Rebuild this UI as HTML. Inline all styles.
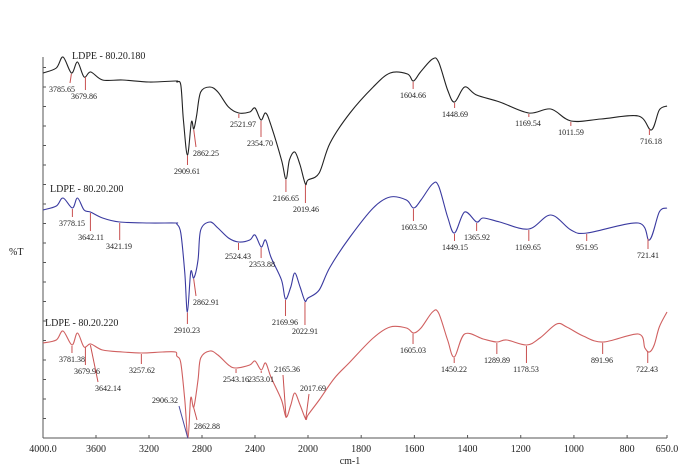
<!DOCTYPE html>
<html><head><meta charset="utf-8"><style>
body{margin:0;background:#fff}
svg{display:block}
text{font-family:"Liberation Serif",serif;fill:#222}
</style></head><body>
<svg id="chart" width="700" height="467" viewBox="0 0 700 467" xmlns="http://www.w3.org/2000/svg">
<g id="axes"></g>
<g id="series"></g>
<g id="annots"></g>
<text x="9" y="255" font-size="10">%T</text>
<text x="350" y="464" font-size="10" text-anchor="middle">cm-1</text>
</svg>
<script>
// x tick labels
const xTicks = [4000,3600,3200,2800,2400,2000,1800,1600,1400,1200,1000,800,650];
const xTickLabels = ["4000.0","3600","3200","2800","2400","2000","1800","1600","1400","1200","1000","800","650.0"];
// %T values (arbitrary units, 0 = axis bottom)
const blackWn = [4000,3900,3849,3785,3740,3690,3640,3550,3400,3200,3000,2990,2960,2940,2910,2880,2862,2840,2810,2740,2680,2600,2522,2440,2400,2355,2320,2280,2200,2166,2140,2100,2060,2020,2000,1958,1917,1842,1755,1691,1626,1604,1577,1532,1509,1475,1449,1411,1366,1279,1170,1087,1011,898,758,709,679,650];
const blackT  = [365,370,381,365,376,361,366,358,358,356,357,356,353,318,283,316,309,323,346,351,346,331,325,326,330,318,325,313,278,259,278,286,273,254,258,265,295,325,351,365,364,357,366,379,376,348,336,351,343,336,325,329,317,319,322,308,328,332];
const blueWn  = [4000,3900,3849,3778,3740,3690,3642,3550,3421,3200,3000,2990,2960,2930,2910,2885,2862,2830,2810,2740,2680,2600,2524,2440,2400,2353,2320,2280,2200,2170,2130,2100,2060,2023,2000,1958,1917,1842,1755,1691,1630,1603,1575,1532,1509,1475,1449,1411,1366,1341,1279,1170,1087,1011,951,758,716,679,650];
const blueT   = [228,232,240,230,240,228,226,220,216,215,215,214,205,165,126,166,160,178,208,216,210,200,196,198,203,191,198,181,158,139,151,165,151,137,140,148,171,201,230,241,238,230,238,254,252,221,205,226,216,220,216,209,223,208,205,215,198,226,230];
const redWn   = [4000,3900,3849,3781,3740,3690,3640,3550,3400,3257,3100,3000,2990,2960,2930,2906,2885,2862,2830,2810,2740,2680,2600,2543,2440,2400,2353,2320,2280,2200,2165,2130,2100,2060,2017,2000,1958,1900,1842,1755,1691,1630,1603,1575,1532,1509,1475,1450,1411,1341,1290,1253,1178,1128,1065,1027,965,890,758,733,716,698,679,650];
const redT    = [95,98,107,93,105,91,94,88,86,85,86,86,82,75,38,0,40,31,58,80,87,83,73,70,73,77,68,75,61,38,21,33,45,33,19,23,38,60,76,100,111,110,105,110,126,125,98,81,104,99,96,98,93,100,114,111,102,96,104,90,86,93,111,126];

const X0=43,X2000=308,X650=667,YB=438,YT=57;
function xScale(w){return w>=2000? X0+(4000-w)*(X2000-X0)/2000 : X2000+(2000-w)*(X650-X2000)/1350;}
function yScale(v){return YB-v*(YB-YT)/381;}
function interp(wn,t,w){for(let i=0;i<wn.length-1;i++){if(w<=wn[i]&&w>=wn[i+1]){const f=(wn[i]-w)/(wn[i]-wn[i+1]);return t[i]+f*(t[i+1]-t[i]);}}return t[t.length-1];}
const NS="http://www.w3.org/2000/svg";
function mk(tag,attrs,parent){const e=document.createElementNS(NS,tag);for(const k in attrs)e.setAttribute(k,attrs[k]);parent.appendChild(e);return e;}

const axes=document.getElementById('axes');
let a=mk('line',{x1:X0,y1:YB,x2:X650,y2:YB,stroke:'#555','stroke-width':1},axes);


a=mk('line',{x1:X0,y1:YB,x2:X0,y2:YT,stroke:'#555','stroke-width':1},axes);


for(let y=YB;y>=YT-1;y-=19.5){const t=mk('line',{x1:X0,y1:y,x2:X0+3,y2:y,stroke:'#555'},axes);

}
xTicks.forEach((w,i)=>{const x=xScale(w);
const t=mk('line',{x1:x,y1:YB,x2:x,y2:YB-3,stroke:'#555'},axes);


const l=mk('text',{x:x,y:452,'font-size':10,'text-anchor':'middle'},axes);l.textContent=xTickLabels[i];

});

const series=document.getElementById('series');
function draw(wn,t,color,name){
const P=wn.map((w,i)=>[xScale(w),yScale(t[i])]);
let d='M'+P[0][0].toFixed(1)+','+P[0][1].toFixed(1);
for(let i=0;i<P.length-1;i++){const p0=P[Math.max(0,i-1)],p1=P[i],p2=P[i+1],p3=P[Math.min(P.length-1,i+2)];
const k=1/6;
const c1=[p1[0]+(p2[0]-p0[0])*k,p1[1]+(p2[1]-p0[1])*k];
const c2=[p2[0]-(p3[0]-p1[0])*k,p2[1]-(p3[1]-p1[1])*k];
d+='C'+c1[0].toFixed(1)+','+c1[1].toFixed(1)+' '+c2[0].toFixed(1)+','+c2[1].toFixed(1)+' '+p2[0].toFixed(1)+','+p2[1].toFixed(1);}
const p=mk('path',{d:d,fill:'none',stroke:color,'stroke-width':1.1,'stroke-linejoin':'round'},series);

}
draw(blackWn,blackT,'#222','series-ldpe-180');
draw(blueWn,blueT,'#3a3aa0','series-ldpe-200');
draw(redWn,redT,'#d06060','series-ldpe-220');

const titles=[["LDPE - 80.20.180",72,59],["LDPE - 80.20.200",50,192],["LDPE - 80.20.220",45,326]];
titles.forEach(t=>{const e=mk('text',{x:t[1],y:t[2],'font-size':10},series);e.textContent=t[0];

});

// peak annotations: [series, wavenumber, label, labelX, labelY, lineColor]
const peaks=[
[0,3785.65,"3785.65",62,92],[0,3679.86,"3679.86",84,99],[0,2909.61,"2909.61",187,174],[0,2862.25,"2862.25",206,156],
[0,2521.97,"2521.97",243,127],[0,2354.70,"2354.70",260,146],[0,2166.65,"2166.65",286,201],[0,2019.46,"2019.46",306,212],
[0,1604.66,"1604.66",413,98],[0,1448.69,"1448.69",455,117],[0,1169.54,"1169.54",528,126],[0,1011.59,"1011.59",571,135],[0,716.18,"716.18",651,144],
[1,3778.15,"3778.15",72,226],[1,3642.11,"3642.11",91,240],[1,3421.19,"3421.19",119,249],[1,2910.23,"2910.23",187,333],[1,2862.91,"2862.91",206,305],
[1,2524.43,"2524.43",238,259],[1,2353.88,"2353.88",262,267],[1,2169.96,"2169.96",285,325],[1,2022.91,"2022.91",305,334],
[1,1603.50,"1603.50",414,230],[1,1449.15,"1449.15",455,250],[1,1365.92,"1365.92",477,240],[1,1169.65,"1169.65",528,250],[1,951.95,"951.95",587,250],[1,721.41,"721.41",648,258],
[2,3781.38,"3781.38",72,362],[2,3679.96,"3679.96",87,374],[2,3642.14,"3642.14",108,391],[2,3257.62,"3257.62",142,373],[2,2906.32,"2906.32",165,403,'#4a4aa0'],
[2,2862.88,"2862.88",207,429],[2,2543.16,"2543.16",236,382],[2,2353.01,"2353.01",261,382],[2,2165.36,"2165.36",287,372],[2,2017.69,"2017.69",313,391],
[2,1605.03,"1605.03",413,353],[2,1450.22,"1450.22",454,372],[2,1289.89,"1289.89",497,363],[2,1178.53,"1178.53",526,372],[2,891.96,"891.96",602,363],[2,722.43,"722.43",647,372]];
const allWn=[blackWn,blueWn,redWn],allT=[blackT,blueT,redT];
const annots=document.getElementById('annots');
peaks.forEach(p=>{const x=xScale(p[1]);const y=yScale(interp(allWn[p[0]],allT[p[0]],p[1]));
let lx,ly;
if(p[4]>y){
 if(Math.abs(p[3]-x)<8){lx=x;ly=p[4]-9;} else {lx=p[3]+(p[3]<x?8:-10);ly=p[4]-9;}
} else {lx=p[3]+(p[3]<x?14:-4);ly=p[4]+3;}
const ln=mk('line',{x1:x,y1:y+1,x2:lx,y2:ly,stroke:p[5]||'#c85050','stroke-width':1},annots);


const t=mk('text',{x:p[3],y:p[4],'font-size':8,'text-anchor':'middle'},annots);t.textContent=p[2];

});
</script>
</body></html>
